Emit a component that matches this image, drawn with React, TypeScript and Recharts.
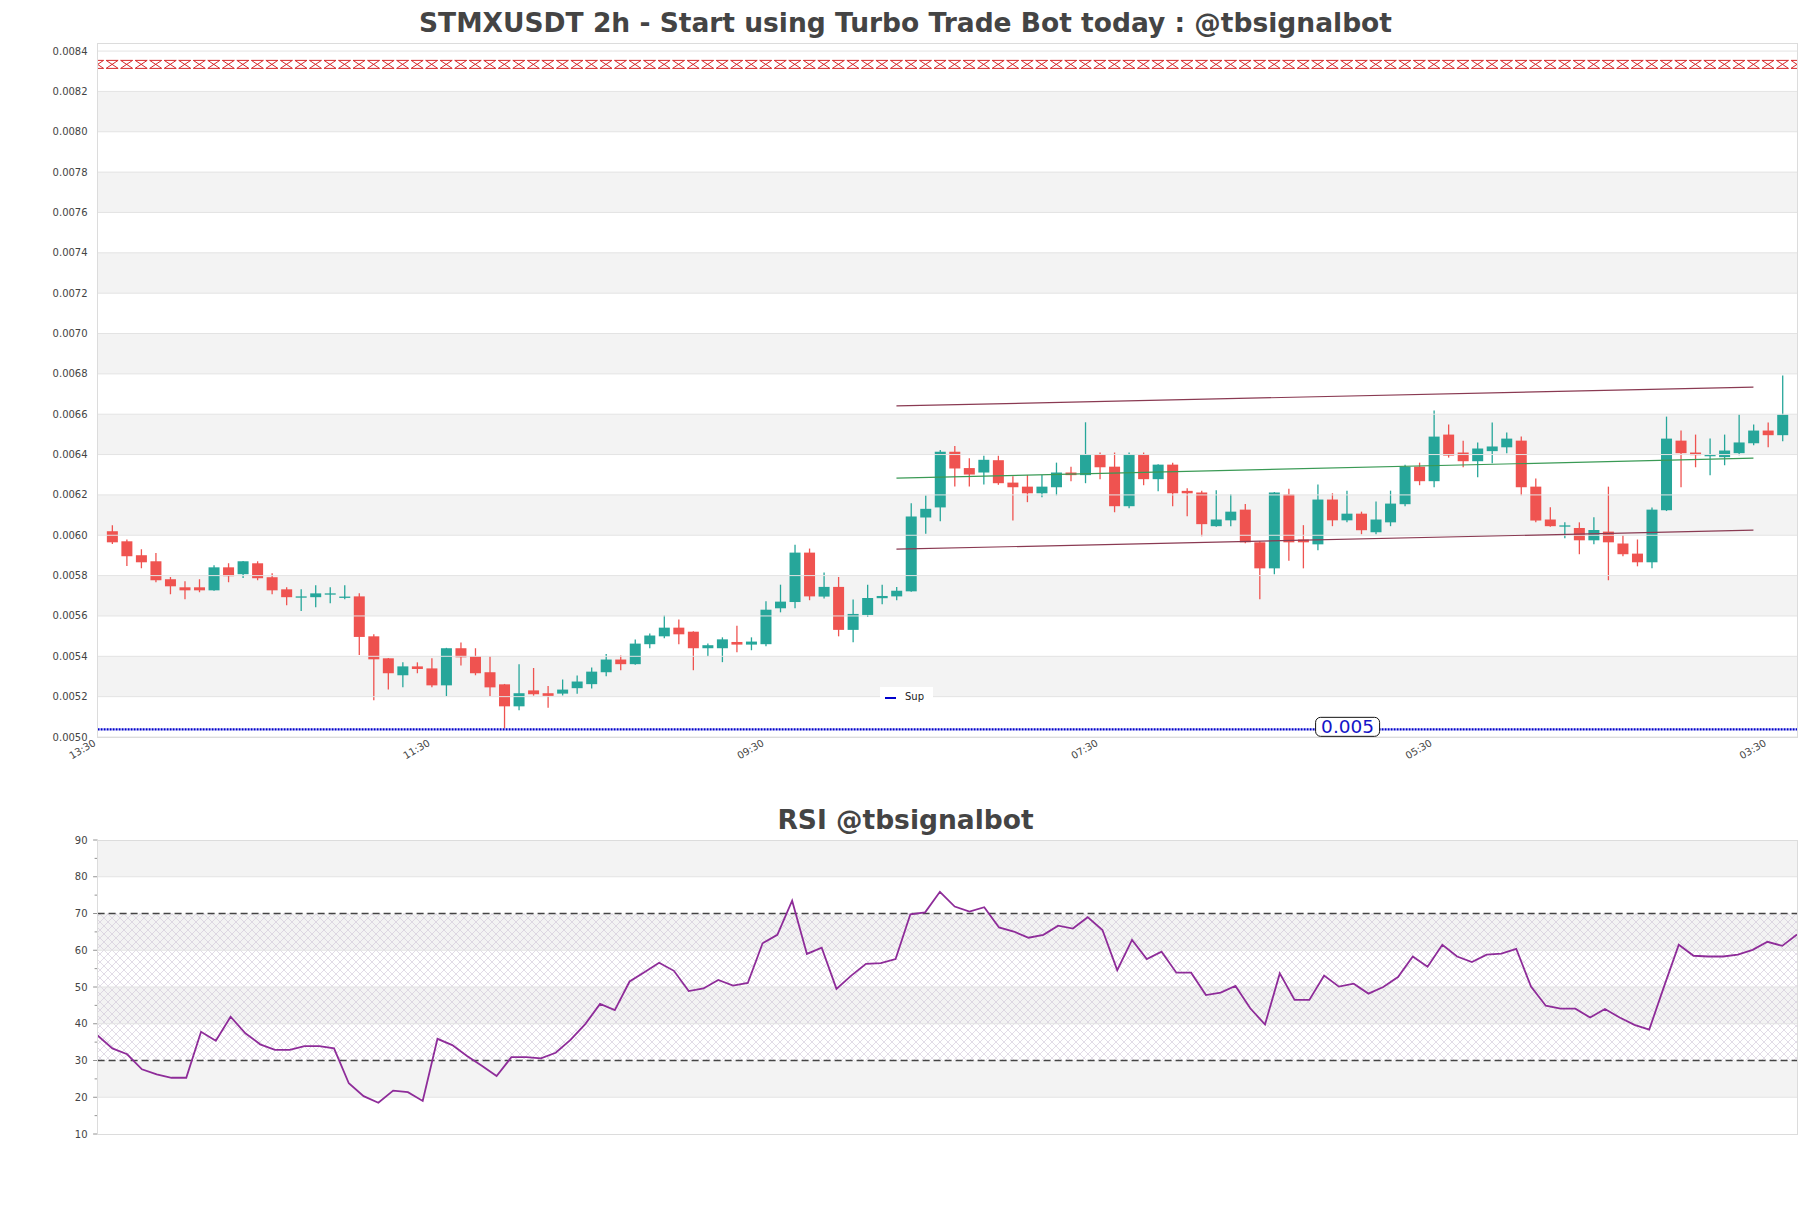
import React from 'react';
import {
  ComposedChart, Bar, Line, XAxis, YAxis, ReferenceArea, ReferenceLine
} from 'recharts';

// ---- data ----
const OPEN = [
  0.006020, 0.005970, 0.005901, 0.005871, 0.005782, 0.005742, 0.005742, 0.005727, 0.005841, 0.005807,
  0.005861, 0.005792, 0.005732, 0.005695, 0.005693, 0.005710, 0.005694, 0.005697, 0.005499, 0.005390,
  0.005306, 0.005350, 0.005340, 0.005256, 0.005440, 0.005400, 0.005321, 0.005261, 0.005152, 0.005231,
  0.005217, 0.005215, 0.005242, 0.005262, 0.005321, 0.005384, 0.005361, 0.005460, 0.005499, 0.005542,
  0.005522, 0.005440, 0.005440, 0.005471, 0.005458, 0.005460, 0.005638, 0.005669, 0.005914, 0.005696,
  0.005744, 0.005531, 0.005605, 0.005688, 0.005697, 0.005722, 0.006088, 0.006138, 0.006414, 0.006333,
  0.006311, 0.006372, 0.006261, 0.006241, 0.006208, 0.006238, 0.006311, 0.006298, 0.006400, 0.006340,
  0.006144, 0.006400, 0.006278, 0.006350, 0.006220, 0.006212, 0.006045, 0.006074, 0.006127, 0.005965,
  0.005836, 0.006202, 0.005979, 0.005955, 0.006177, 0.006074, 0.006107, 0.006015, 0.006064, 0.006154,
  0.006340, 0.006268, 0.006499, 0.006410, 0.006367, 0.006417, 0.006436, 0.006469, 0.006241, 0.006078,
  0.006047, 0.006036, 0.005975, 0.006018, 0.005959, 0.005909, 0.005866, 0.006124, 0.006469, 0.006410,
  0.006396, 0.006387, 0.006407, 0.006456, 0.006519, 0.006496,
];
const HIGH = [
  0.006050, 0.005979, 0.005931, 0.005912, 0.005793, 0.005772, 0.005782, 0.005851, 0.005861, 0.005873,
  0.005871, 0.005812, 0.005742, 0.005732, 0.005752, 0.005742, 0.005752, 0.005712, 0.005509, 0.005392,
  0.005370, 0.005370, 0.005390, 0.005442, 0.005469, 0.005440, 0.005400, 0.005263, 0.005360, 0.005342,
  0.005253, 0.005285, 0.005305, 0.005344, 0.005412, 0.005404, 0.005483, 0.005513, 0.005602, 0.005582,
  0.005524, 0.005463, 0.005494, 0.005552, 0.005494, 0.005673, 0.005755, 0.005953, 0.005934, 0.005815,
  0.005793, 0.005681, 0.005755, 0.005755, 0.005744, 0.006159, 0.006197, 0.006423, 0.006443, 0.006382,
  0.006394, 0.006394, 0.006293, 0.006299, 0.006299, 0.006360, 0.006340, 0.006560, 0.006410, 0.006410,
  0.006410, 0.006410, 0.006352, 0.006360, 0.006233, 0.006221, 0.006223, 0.006203, 0.006155, 0.005970,
  0.006215, 0.006231, 0.006050, 0.006251, 0.006208, 0.006221, 0.006117, 0.006167, 0.006221, 0.006350,
  0.006360, 0.006618, 0.006549, 0.006469, 0.006460, 0.006559, 0.006509, 0.006489, 0.006281, 0.006139,
  0.006064, 0.006064, 0.006089, 0.006241, 0.006000, 0.005979, 0.006137, 0.006588, 0.006519, 0.006499,
  0.006479, 0.006499, 0.006598, 0.006549, 0.006559, 0.006792,
];
const LOW = [
  0.005957, 0.005848, 0.005836, 0.005767, 0.005707, 0.005683, 0.005717, 0.005725, 0.005767, 0.005788,
  0.005777, 0.005707, 0.005653, 0.005625, 0.005643, 0.005663, 0.005683, 0.005407, 0.005182, 0.005236,
  0.005246, 0.005316, 0.005246, 0.005202, 0.005355, 0.005306, 0.005202, 0.005043, 0.005132, 0.005205,
  0.005145, 0.005206, 0.005215, 0.005240, 0.005301, 0.005331, 0.005358, 0.005440, 0.005489, 0.005460,
  0.005331, 0.005400, 0.005371, 0.005420, 0.005430, 0.005450, 0.005618, 0.005638, 0.005678, 0.005687,
  0.005499, 0.005470, 0.005595, 0.005658, 0.005678, 0.005720, 0.006008, 0.006069, 0.006242, 0.006242,
  0.006252, 0.006250, 0.006073, 0.006164, 0.006188, 0.006198, 0.006268, 0.006258, 0.006278, 0.006114,
  0.006134, 0.006248, 0.006218, 0.006144, 0.006094, 0.005995, 0.006042, 0.006045, 0.005960, 0.005683,
  0.005807, 0.005874, 0.005836, 0.005926, 0.006045, 0.006064, 0.006005, 0.006005, 0.006045, 0.006144,
  0.006248, 0.006238, 0.006385, 0.006337, 0.006288, 0.006357, 0.006407, 0.006198, 0.006064, 0.006042,
  0.005985, 0.005906, 0.005955, 0.005777, 0.005896, 0.005846, 0.005836, 0.006120, 0.006238, 0.006337,
  0.006298, 0.006347, 0.006397, 0.006446, 0.006436, 0.006466,
];
const CLOSE = [
  0.005965, 0.005896, 0.005866, 0.005777, 0.005747, 0.005727, 0.005727, 0.005841, 0.005797, 0.005871,
  0.005787, 0.005727, 0.005693, 0.005697, 0.005712, 0.005712, 0.005696, 0.005496, 0.005385, 0.005316,
  0.005350, 0.005337, 0.005256, 0.005440, 0.005395, 0.005316, 0.005246, 0.005152, 0.005217, 0.005212,
  0.005204, 0.005235, 0.005275, 0.005324, 0.005384, 0.005361, 0.005463, 0.005503, 0.005542, 0.005509,
  0.005440, 0.005455, 0.005484, 0.005458, 0.005473, 0.005631, 0.005671, 0.005914, 0.005697, 0.005744,
  0.005531, 0.005610, 0.005689, 0.005699, 0.005725, 0.006093, 0.006131, 0.006414, 0.006331, 0.006301,
  0.006374, 0.006258, 0.006238, 0.006208, 0.006241, 0.006311, 0.006298, 0.006400, 0.006337, 0.006144,
  0.006400, 0.006278, 0.006350, 0.006208, 0.006208, 0.006055, 0.006078, 0.006117, 0.005965, 0.005836,
  0.006212, 0.005965, 0.005965, 0.006177, 0.006074, 0.006107, 0.006025, 0.006078, 0.006157, 0.006340,
  0.006268, 0.006489, 0.006395, 0.006367, 0.006430, 0.006440, 0.006479, 0.006238, 0.006073, 0.006045,
  0.006049, 0.005975, 0.006026, 0.005965, 0.005906, 0.005866, 0.006127, 0.006479, 0.006407, 0.006397,
  0.006398, 0.006420, 0.006460, 0.006519, 0.006496, 0.006598,
];

const RSI = [
  36.8, 33.3, 31.7, 27.6, 26.2, 25.3, 25.3, 37.8, 35.4, 41.9,
  37.4, 34.4, 32.9, 32.9, 33.9, 33.9, 33.3, 23.8, 20.3, 18.5,
  21.8, 21.4, 19.0, 35.9, 34.2, 31.2, 28.6, 25.8, 30.9, 30.9,
  30.6, 32.1, 35.6, 39.9, 45.4, 43.7, 51.5, 54.0, 56.6, 54.4,
  48.9, 49.6, 51.9, 50.4, 51.1, 61.9, 64.2, 73.5, 59.0, 60.7,
  49.5, 53.1, 56.3, 56.5, 57.6, 69.8, 70.3, 75.9, 71.9, 70.5,
  71.7, 66.2, 65.1, 63.4, 64.2, 66.7, 65.9, 69.0, 65.5, 54.6,
  62.8, 57.6, 59.6, 53.9, 53.9, 47.8, 48.5, 50.3, 44.2, 39.8,
  53.7, 46.5, 46.5, 53.1, 50.1, 50.9, 48.2, 50.0, 52.7, 58.3,
  55.5, 61.5, 58.3, 56.8, 58.8, 59.1, 60.4, 50.1, 44.9, 44.1,
  44.1, 41.7, 44.0, 41.7, 39.7, 38.4, 50.1, 61.5, 58.5, 58.3,
  58.3, 58.8, 60.1, 62.3, 61.2, 64.3,
];

const TIME_TICKS = [-1, 22, 45, 68, 91, 114];
const TIME_LABELS = ['13:30', '11:30', '09:30', '07:30', '05:30', '03:30'];

const PRICE_TICKS = [
  0.0050, 0.0052, 0.0054, 0.0056, 0.0058, 0.0060, 0.0062, 0.0064, 0.0066,
  0.0068, 0.0070, 0.0072, 0.0074, 0.0076, 0.0078, 0.0080, 0.0082, 0.0084,
];
const PRICE_BANDS = [
  [0.0052, 0.0054], [0.0056, 0.0058], [0.0060, 0.0062], [0.0064, 0.0066],
  [0.0068, 0.0070], [0.0072, 0.0074], [0.0076, 0.0078], [0.0080, 0.0082],
];
const RSI_TICKS = [10, 15, 20, 25, 30, 35, 40, 45, 50, 55, 60, 65, 70, 75, 80, 85, 90];
const RSI_BANDS = [[20, 30], [40, 50], [60, 70], [80, 90]];

// channel lines (start / end)
const UPPER_LINE = [{ i: 54, v: 0.006641 }, { i: 113, v: 0.006734 }];
const MID_LINE = [{ i: 54, v: 0.006283 }, { i: 113, v: 0.006382 }];
const LOWER_LINE = [{ i: 54, v: 0.005931 }, { i: 113, v: 0.006025 }];

const TOP_LEVEL = 0.008334;
const SUP_LEVEL = 0.005038;

const GREEN = '#26a69a';
const RED = '#ef5350';
const TEXT = '#444';

const candleData = OPEN.map((o, i) => ({ i, open: o, high: HIGH[i], low: LOW[i], close: CLOSE[i] }));
const topLineData = Array.from({ length: 118 }, (_, k) => ({ i: k - 1, v: TOP_LEVEL }));
const rsiData = RSI.map((v, i) => ({ i, v }));

const Candle = (props: any) => {
  const { x, y, width, height, payload } = props;
  if (x == null || !payload) return null;
  const { open, close, high, low } = payload;
  const ppu = high > low ? height / (high - low) : 0;
  const yOf = (v: number) => y + (high - v) * ppu;
  const color = close >= open ? GREEN : RED;
  const cx = x + width / 2;
  const top = yOf(Math.max(open, close));
  const bot = yOf(Math.min(open, close));
  return (
    <g>
      <line x1={cx} x2={cx} y1={y} y2={y + height} stroke={color} strokeWidth={1.3} />
      <rect x={x} y={top} width={width} height={Math.max(bot - top, 1.3)} fill={color} />
    </g>
  );
};

const Hourglass = (props: any) => {
  const { cx, cy } = props;
  if (cx == null || cy == null) return null;
  return (
    <path
      d={`M${cx - 6},${cy - 4} L${cx + 6},${cy - 4} L${cx - 6},${cy + 4} L${cx + 6},${cy + 4} Z`}
      fill="none" stroke="#d62728" strokeWidth={1}
    />
  );
};

const PriceTick = ({ x, y, payload }: any) => (
  <text x={x - 10} y={y} dy={3.5} textAnchor="end" fontSize={10} fill={TEXT}>
    {Number(payload.value).toFixed(4)}
  </text>
);

const TimeTick = ({ x, y, payload }: any) => {
  const idx = TIME_TICKS.indexOf(payload.value);
  return (
    <text x={x - 1} y={y + 8} textAnchor="end" fontSize={10} fill={TEXT}
      transform={`rotate(-30, ${x - 1}, ${y + 8})`}>
      {TIME_LABELS[idx]}
    </text>
  );
};

const RsiTick = ({ x, y, payload }: any) => {
  const major = payload.value % 10 === 0;
  return (
    <g>
      <line x1={x - (major ? 4.5 : 3)} x2={x} y1={y} y2={y} stroke="#777" strokeWidth={0.8} />
      {major && (
        <text x={x - 10} y={y} dy={3.5} textAnchor="end" fontSize={10} fill={TEXT}>{payload.value}</text>
      )}
    </g>
  );
};

const SupLabel = (props: any) => {
  const vb = props.viewBox;
  if (!vb) return null;
  const bx = vb.x + 1218;
  const by = vb.y - 12;
  return (
    <g>
      <rect x={bx} y={by} width={64} height={19} rx={5} fill="#fff" stroke="#111" strokeWidth={1} />
      <text x={bx + 32} y={by + 16} textAnchor="middle" fontSize={18.5} fill="#1414c8">0.005</text>
    </g>
  );
};

const titleStyle = (top: number) => ({
  position: 'absolute' as const, left: 0, top, width: 1811, textAlign: 'center' as const,
  fontSize: 26.5, lineHeight: '26.5px', fontWeight: 700, color: TEXT,
});

const App: React.FC = () => {
  return (
    <div style={{ position: 'absolute', left: 0, top: 0, width: 1811, height: 1208, background: '#fff', fontFamily: 'DejaVu Sans' }}>
      <svg width={0} height={0} style={{ position: 'absolute' }}>
        <defs>
          <pattern id="hatch" width={8} height={8} patternUnits="userSpaceOnUse">
            <path d="M0,0 L8,8 M8,0 L0,8" stroke="#cfc4d6" strokeWidth={0.6} />
          </pattern>
        </defs>
      </svg>

      <div style={titleStyle(9.9)}>STMXUSDT 2h - Start using Turbo Trade Bot today : @tbsignalbot</div>

      {/* price panel */}
      <div style={{ position: 'absolute', left: 0, top: 0 }}>
        <ComposedChart width={1811} height={770} data={candleData}
          margin={{ top: 43, right: 14, bottom: 3, left: 0 }}>
          <XAxis dataKey="i" type="number" domain={[-1, 116]} allowDataOverflow
            ticks={TIME_TICKS} interval={0} tick={<TimeTick />} tickLine={false}
            axisLine={false} tickSize={0} tickMargin={0} height={30} />
          <YAxis type="number" domain={[0.005, 0.00844]} allowDataOverflow
            ticks={PRICE_TICKS} interval={0} tick={<PriceTick />} tickLine={false}
            axisLine={false} tickSize={0} tickMargin={0} width={97.6} />
          {PRICE_BANDS.map(([a, b]) => (
            <ReferenceArea key={a} y1={a} y2={b} fill="#f3f3f3" fillOpacity={1} stroke="none" ifOverflow="hidden" />
          ))}
          {PRICE_TICKS.map((t) => (
            <ReferenceLine key={t} y={t} stroke="#e3e3e3" strokeWidth={1} />
          ))}
          <ReferenceLine y={SUP_LEVEL} stroke="#0000cc" strokeWidth={2.2} strokeDasharray="2 1" label={<SupLabel />} />
          <Line data={topLineData} dataKey="v" stroke="none" dot={<Hourglass />} isAnimationActive={false} />
          <Line data={UPPER_LINE} dataKey="v" stroke="#8a3a52" strokeWidth={1.2} dot={false} isAnimationActive={false} />
          <Line data={MID_LINE} dataKey="v" stroke="#3a9a55" strokeWidth={1.2} dot={false} isAnimationActive={false} />
          <Line data={LOWER_LINE} dataKey="v" stroke="#8a3a52" strokeWidth={1.2} dot={false} isAnimationActive={false} />
          <Bar dataKey={(d: any) => [d.low, d.high]} barSize={11} shape={<Candle />} isAnimationActive={false} />
        </ComposedChart>
      </div>
      <div style={{ position: 'absolute', left: 97, top: 43, width: 1699, height: 693, border: '1px solid #dcdcdc', pointerEvents: 'none' }} />

      {/* legend */}
      <div style={{ position: 'absolute', left: 880, top: 687, width: 53, height: 21, background: '#fff', fontSize: 10, color: '#222' }}>
        <div style={{ position: 'absolute', left: 5, top: 10, width: 11, height: 2, background: '#0000cc' }} />
        <div style={{ position: 'absolute', left: 25, top: 4, lineHeight: '12px' }}>Sup</div>
      </div>

      <div style={titleStyle(806.9)}>RSI @tbsignalbot</div>

      {/* RSI panel */}
      <div style={{ position: 'absolute', left: 0, top: 830 }}>
        <ComposedChart width={1811} height={320} data={rsiData}
          margin={{ top: 10, right: 14, bottom: 16, left: 0 }}>
          <XAxis dataKey="i" type="number" domain={[0, 115]} hide />
          <YAxis type="number" domain={[10, 90]} ticks={RSI_TICKS} interval={0}
            tick={<RsiTick />} tickLine={false} axisLine={false} tickSize={0} tickMargin={0} width={97.6} />
          {RSI_BANDS.map(([a, b]) => (
            <ReferenceArea key={a} y1={a} y2={b} fill="#f3f3f3" fillOpacity={1} stroke="none" />
          ))}
          <ReferenceArea y1={30} y2={70} fill="url(#hatch)" fillOpacity={1} stroke="none" />
          {[20, 40, 50, 60, 80].map((t) => (
            <ReferenceLine key={t} y={t} stroke="#e3e3e3" strokeWidth={1} />
          ))}
          <ReferenceLine y={70} stroke="#444" strokeWidth={1.3} strokeDasharray="7 4" />
          <ReferenceLine y={30} stroke="#444" strokeWidth={1.3} strokeDasharray="7 4" />
          <Line dataKey="v" stroke="#8e2c99" strokeWidth={1.8} dot={false} isAnimationActive={false} />
        </ComposedChart>
      </div>
      <div style={{ position: 'absolute', left: 97, top: 840, width: 1699, height: 293, border: '1px solid #dcdcdc', pointerEvents: 'none' }} />
    </div>
  );
};

export default App;
